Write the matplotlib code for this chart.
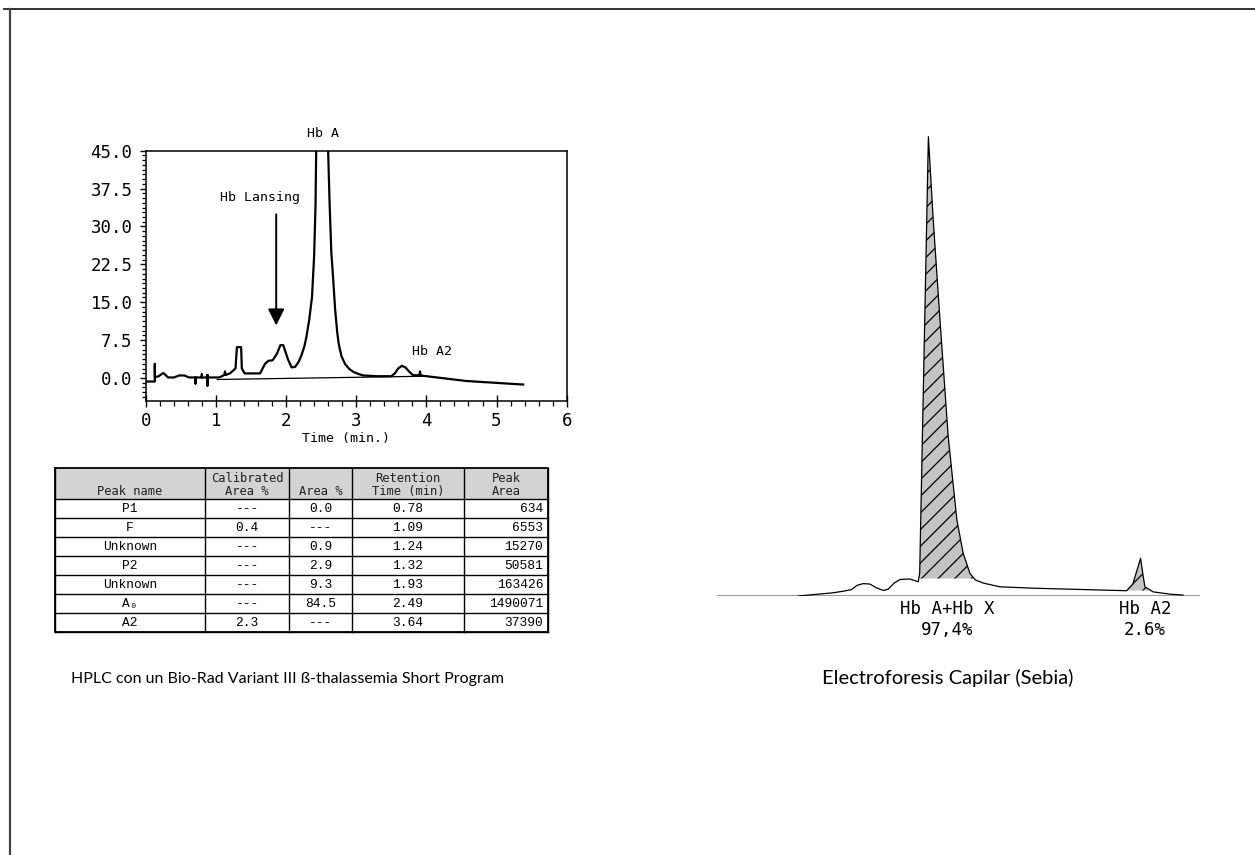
import numpy as np
import matplotlib
matplotlib.use("Agg")
import matplotlib.pyplot as plt
from matplotlib.patches import Rectangle
from matplotlib.lines import Line2D
from matplotlib.ticker import MultipleLocator

# ------------ HPLC chromatogram (Bio-Rad Variant III) ---------------
hplc_time = [0.00, 0.13, 0.13, 0.13, 0.18, 0.25, 0.32, 0.40, 0.48, 0.55, 0.62,
             0.71, 0.71, 0.71, 0.80, 0.80, 0.80, 0.88, 0.88, 0.88, 0.88, 1.04,
             1.08, 1.12, 1.13, 1.14, 1.20, 1.25, 1.28, 1.30, 1.36, 1.37, 1.41,
             1.63, 1.70, 1.75, 1.81, 1.87, 1.92, 1.96, 2.03, 2.08, 2.13, 2.18,
             2.22, 2.26, 2.29, 2.33, 2.37, 2.40, 2.42, 2.43, 2.51, 2.60, 2.62,
             2.645, 2.67, 2.70, 2.73, 2.75, 2.79, 2.84, 2.90, 2.96, 3.03, 3.10,
             3.29, 3.50, 3.55, 3.60, 3.65, 3.70, 3.76, 3.81, 3.90, 3.91, 3.92,
             4.00, 4.57, 5.38]
hplc_signal = [-0.7, -0.7, 2.8, 0.2, 0.3, 1.0, 0.1, 0.1, 0.5, 0.5, 0.1,
               0.1, -1.1, 0.1, 0.1, 0.7, 0.1, 0.1, -1.5, 0.6, 0.1, 0.1,
               0.3, 0.6, 1.3, 0.6, 0.9, 1.5, 1.9, 6.1, 6.1, 1.9, 0.9,
               0.9, 2.8, 3.4, 3.5, 4.8, 6.5, 6.5, 3.6, 2.1, 2.2, 3.2,
               4.5, 6.2, 8.1, 11.5, 16.0, 24.0, 34.0, 45.0, 75.0, 45.0, 35.0,
               25.0, 20.0, 13.5, 9.0, 6.8, 4.3, 2.8, 1.8, 1.2, 0.8, 0.5,
               0.35, 0.35, 0.9, 1.9, 2.4, 2.1, 1.2, 0.55, 0.55, 1.3, 0.5,
               0.35, -0.6, -1.3]
baseline_time = [1.02, 4.00]
baseline_signal = [-0.3, 0.35]

hplc_yticks = [0.0, 7.5, 15.0, 22.5, 30.0, 37.5, 45.0]
hplc_xticks = [0, 1, 2, 3, 4, 5, 6]

# ------------ Peak table ---------------
table_header = ["\nPeak name", "Calibrated\nArea %", "\nArea %",
                "Retention\nTime (min)", "Peak\nArea"]
peak_names = ["P1", "F", "Unknown", "P2", "Unknown", "A\u2080", "A2"]
calibrated_area = ["---", "0.4", "---", "---", "---", "---", "2.3"]
area_pct = ["0.0", "---", "0.9", "2.9", "9.3", "84.5", "---"]
retention_time = ["0.78", "1.09", "1.24", "1.32", "1.93", "2.49", "3.64"]
peak_area = ["634", "6553", "15270", "50581", "163426", "1490071", "37390"]

# ------------ Capillary electrophoresis (Sebia) ---------------
ce_pos = [16.9, 24.1, 26.5, 27.9, 29.0, 30.3, 31.7, 33.0, 34.5, 35.5, 36.7,
          37.9, 40.0, 41.7, 42.0, 43.8, 44.8, 46.2, 47.9, 49.7, 51.0, 52.4,
          53.5, 55.2, 58.6, 65.5, 84.8, 86.1, 87.7, 88.2, 88.6, 90.3, 93.8,
          96.5]
ce_signal = [0.0, 0.7, 1.1, 1.4, 2.3, 2.7, 2.6, 1.8, 1.2, 1.5, 2.8,
             3.6, 3.7, 3.1, 5.0, 100.0, 81.9, 60.1, 34.7, 16.5, 9.3, 4.9,
             3.5, 2.8, 2.0, 1.7, 1.15, 2.6, 8.2, 4.6, 2.0, 0.9, 0.4,
             0.2]
ce_labels = ["Hb A+Hb X", "Hb A2"]
ce_percent = ["97,4%", "2.6%"]
ce_label_pos = [47.7, 88.6]

W, H = 1255, 855
mono = "DejaVu Sans Mono"
tab_font = ["Liberation Mono", "DejaVu Sans Mono"]
plt.rcParams["hatch.linewidth"] = 0.9

fig = plt.figure(figsize=(W / 100, H / 100), dpi=100)
fig.patch.set_facecolor("white")

def px_box(x0, y0, x1, y1):
    return [x0 / W, 1 - y1 / H, (x1 - x0) / W, (y1 - y0) / H]

# page border (top and left)
fig.add_artist(Line2D([4 / W, 1], [1 - 9.3 / H, 1 - 9.3 / H], color="#222222", lw=1.3))
fig.add_artist(Line2D([9.8 / W, 9.8 / W], [0, 1 - 9.3 / H], color="#444444", lw=1.6))

# ------------ HPLC plot ---------------
ax = fig.add_axes(px_box(145.7, 150.7, 566.7, 400.7))
ax.plot(hplc_time, hplc_signal, color="black", lw=1.6, solid_joinstyle="round")
ax.plot(baseline_time, baseline_signal, color="black", lw=0.9)
ax.set_xlim(0, 6)
ax.set_ylim(-4.5, 45)
ax.set_xticks(hplc_xticks)
ax.set_yticks(hplc_yticks)
ax.set_yticklabels(["%.1f" % v for v in hplc_yticks])
ax.xaxis.set_minor_locator(MultipleLocator(0.2))
ax.yaxis.set_minor_locator(MultipleLocator(7.5 / 8))
for s in ax.spines.values():
    s.set_linewidth(1.1)
ax.tick_params(axis="y", which="major", direction="out", length=4.5, width=1.0,
               pad=5, labelsize=12.5)
ax.tick_params(axis="y", which="minor", direction="out", length=2.8, width=0.9)
ax.tick_params(axis="x", which="major", direction="inout", length=8, width=1.0,
               pad=4, labelsize=12.5)
ax.tick_params(axis="x", which="minor", direction="out", length=3.5, width=0.9)
for lab in ax.get_xticklabels() + ax.get_yticklabels():
    lab.set_family(mono)

ax.text(2.53, 48.5, "Hb A", family=mono, fontsize=9.5, ha="center", va="center", clip_on=False)
ax.text(1.63, 35.7, "Hb Lansing", family=mono, fontsize=9.5, ha="center", va="center")
ax.text(4.08, 5.2, "Hb A2", family=mono, fontsize=9.5, ha="center", va="center")
ax.annotate("", xy=(1.86, 10.4), xytext=(1.86, 32.4),
            arrowprops=dict(arrowstyle="-|>,head_length=0.5,head_width=0.25",
                            color="black", lw=1.4, mutation_scale=20, shrinkA=0, shrinkB=0))
fig.text(345.7 / W, 1 - 438 / H, "Time (min.)", family=mono, fontsize=9.5,
         ha="center", va="center")

# ------------ Peak table ---------------
col_w = [150, 84.3, 62.4, 112.6, 84]
head_h, row_h = 31, 19
tw = sum(col_w)
th = head_h + row_h * len(peak_names)
tax = fig.add_axes(px_box(55, 468.3, 55 + tw, 468.3 + th))
tax.set_xlim(0, tw)
tax.set_ylim(th, 0)
tax.axis("off")
edges = np.concatenate([[0], np.cumsum(col_w)])
tax.add_patch(Rectangle((0, 0), tw, head_h, facecolor="#d3d3d3", edgecolor="none"))
columns = [peak_names, calibrated_area, area_pct, retention_time, peak_area]
for j, head in enumerate(table_header):
    cx = (edges[j] + edges[j + 1]) / 2
    tax.text(cx, head_h / 2 + 1, head, family=mono, fontsize=8.7, ha="center",
             va="center", linespacing=1.05, color="#222222")
    for i, val in enumerate(columns[j]):
        cy = head_h + row_h * i + row_h / 2
        if j == 4:
            tax.text(edges[j + 1] - 5, cy, val, family=tab_font,
                     fontsize=9.3, ha="right", va="center")
        else:
            tax.text(cx, cy, val, family=tab_font,
                     fontsize=9.3, ha="center", va="center")
for e in edges:
    tax.plot([e, e], [0, th], color="black", lw=1.0, clip_on=False)
for k in range(len(peak_names) + 1):
    y = head_h + row_h * k
    tax.plot([0, tw], [y, y], color="black", lw=1.0, clip_on=False)
tax.plot([0, tw, tw, 0, 0], [0, 0, th, th, 0], color="black", lw=1.3, clip_on=False)

fig.text(287.5 / W, 1 - 679.3 / H,
         "HPLC con un Bio-Rad Variant III \u00df-thalassemia Short Program",
         family="Lato", fontsize=11.5, ha="center", va="center")

# ------------ Capillary electrophoresis plot ---------------
cax = fig.add_axes(px_box(716.7, 130, 1200, 596))
cax.set_xlim(0, 100)
cax.set_ylim(0, (596 - 130) / 4.593)
cax.axis("off")
cax.axhline(0, color="#8a8a8a", lw=1.2)
xg = np.linspace(41.7, 53.0, 300)
yg = np.interp(xg, ce_pos, ce_signal)
cax.fill_between(xg, 3.8, yg, where=yg >= 3.8, interpolate=True,
                 facecolor="#c4c4c4", edgecolor="black", hatch="//", linewidth=0)
xg2 = np.linspace(84.8, 90.0, 200)
yg2 = np.interp(xg2, ce_pos, ce_signal)
cax.fill_between(xg2, 1.2, yg2, where=yg2 >= 1.2, interpolate=True,
                 facecolor="#c4c4c4", edgecolor="black", hatch="//", linewidth=0)
cax.plot(ce_pos, ce_signal, color="black", lw=0.9)
for lab, pct, xp in zip(ce_labels, ce_percent, ce_label_pos):
    cax.text(xp, -2.9, lab, family=mono, fontsize=12.5, ha="center", va="center", clip_on=False)
    cax.text(xp, -7.4, pct, family=mono, fontsize=12.5, ha="center", va="center", clip_on=False)

fig.text(947.5 / W, 1 - 678.3 / H, "Electroforesis Capilar (Sebia)",
         family="Lato", fontsize=14.5, ha="center", va="center")

fig.savefig("out.png", dpi=100)
